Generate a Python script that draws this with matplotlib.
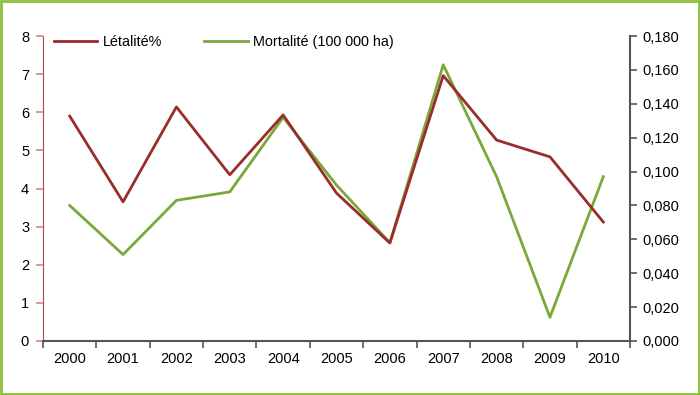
import numpy as np
import matplotlib
matplotlib.use("Agg")
import matplotlib.pyplot as plt
from matplotlib.patches import Rectangle

plt.rcParams['font.family'] = ['Liberation Sans', 'DejaVu Sans']

years = ['2000', '2001', '2002', '2003', '2004', '2005',
         '2006', '2007', '2008', '2009', '2010']
letalite = [5.9, 3.65, 6.14, 4.36, 5.93, 3.88, 2.57, 6.96, 5.27, 4.83, 3.12]
mortalite = [0.080, 0.051, 0.083, 0.088, 0.132, 0.092, 0.058, 0.163, 0.097, 0.014, 0.097]
left_ticks = [0, 1, 2, 3, 4, 5, 6, 7, 8]
right_ticks = [0.0, 0.02, 0.04, 0.06, 0.08, 0.10, 0.12, 0.14, 0.16, 0.18]

red = '#9a2c2c'
green = '#7aa83a'
grey = '#555555'

fig = plt.figure(figsize=(7, 3.95), dpi=100)
ax = fig.add_axes([43 / 700, 1 - 341 / 395, 587 / 700, 305 / 395])
ax2 = ax.twinx()

x = np.arange(len(years))
l1, = ax.plot(x, letalite, color=red, lw=2)
l2, = ax2.plot(x, mortalite, color=green, lw=2)
ax.set_zorder(ax2.get_zorder() + 1)
ax.patch.set_visible(False)

ax.set_xlim(-0.5, len(years) - 0.5)
ax.set_ylim(0, 8)
ax2.set_ylim(0, 0.18)
ax.set_yticks(left_ticks)
ax2.set_yticks(right_ticks)
ax2.set_yticklabels([f"{v:.3f}".replace('.', ',') for v in right_ticks])

ax.set_xticks(x)
ax.set_xticklabels(years)
ax.set_xticks(np.arange(-0.5, len(years)), minor=True)
ax.tick_params(axis='x', which='major', length=0, pad=8, labelsize=10.5)
ax.tick_params(axis='x', which='minor', length=5, width=1.2, color=grey, direction='out')
ax.tick_params(axis='y', length=5, width=1.2, color='#d08a8a', labelsize=10.5, pad=5)
ax2.tick_params(axis='y', length=5, width=1.2, color=grey, labelsize=10.5, pad=4)

for a in (ax, ax2):
    a.spines['top'].set_visible(False)
ax.spines['right'].set_visible(False)
ax.spines['left'].set_color('#b04a4a')
ax.spines['bottom'].set_color(grey)
ax.spines['bottom'].set_linewidth(1.5)
ax2.spines['left'].set_visible(False)
ax2.spines['bottom'].set_visible(False)
ax2.spines['right'].set_color(grey)
ax2.spines['right'].set_linewidth(1.5)

fig.legend([l1, l2], ['Létalité%', 'Mortalité (100 000 ha)'], ncol=2, frameon=False,
           loc='upper left', bbox_to_anchor=(41 / 700, 1 - 22 / 395), fontsize=10.4,
           handlelength=3.0, handletextpad=0.4, columnspacing=2.9)

fig.patches.append(Rectangle((0.0015, 0.0025), 0.997, 0.995, transform=fig.transFigure,
                             fill=False, edgecolor='#8dbf3a', lw=2))

fig.savefig('out.png', dpi=100)
